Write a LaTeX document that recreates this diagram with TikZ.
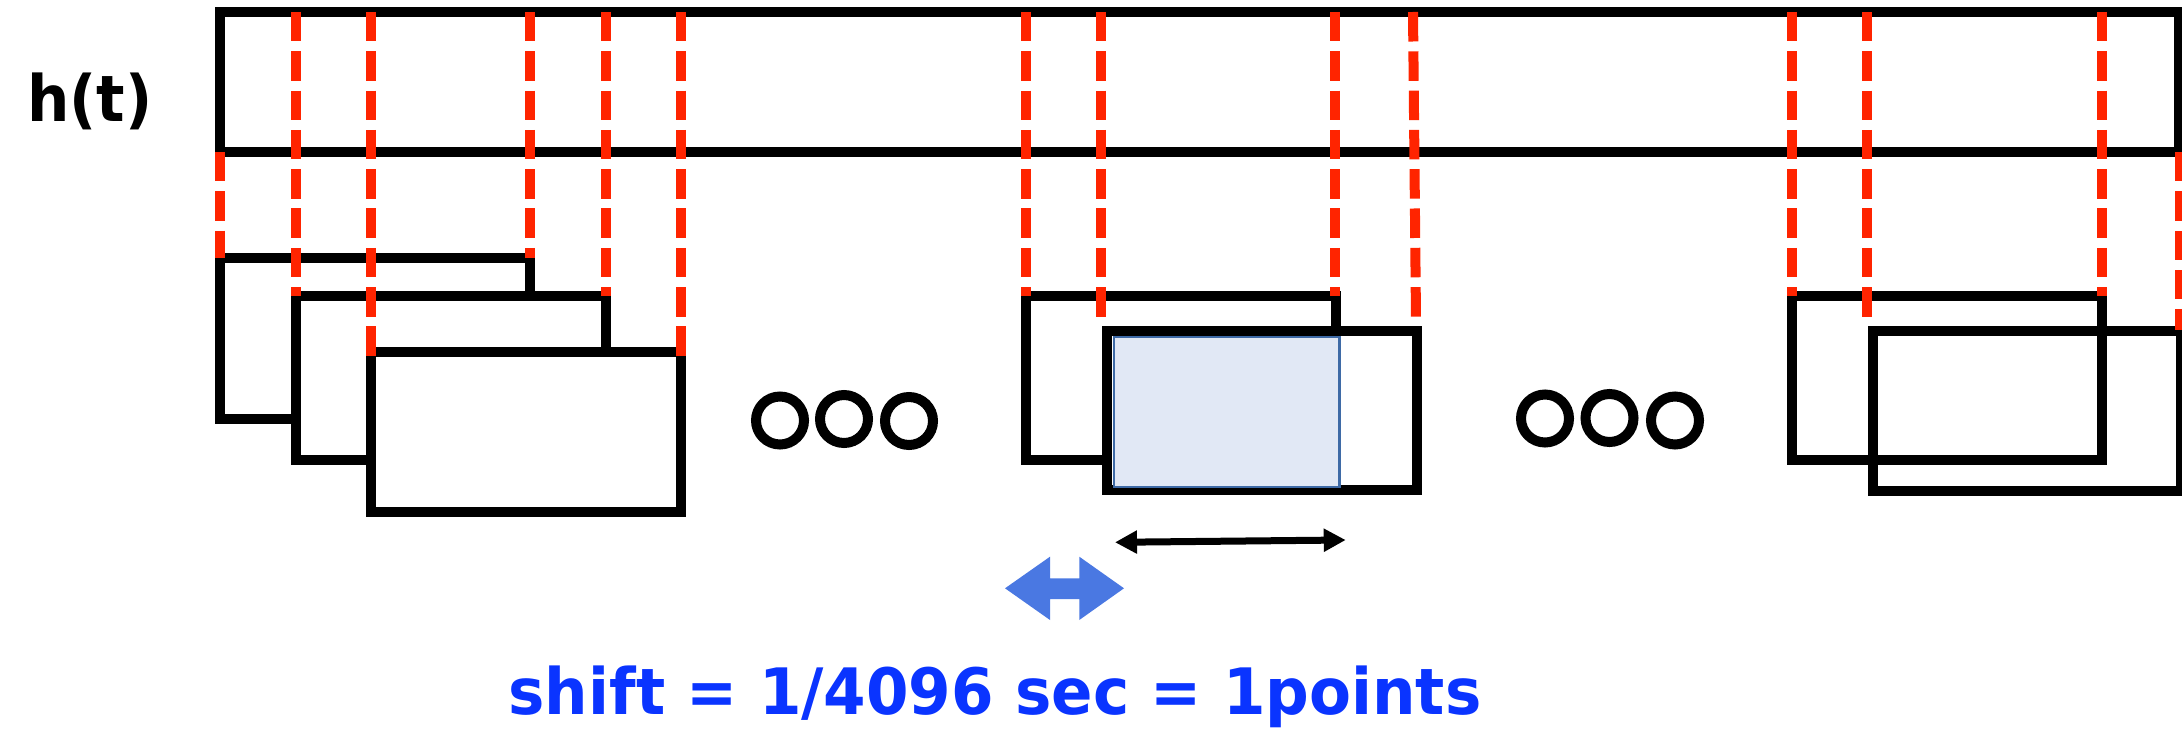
\documentclass[tikz,border=0pt]{standalone}
\usepackage{fontspec}
\setmainfont{DejaVu Sans}
\usetikzlibrary{arrows.meta}
\definecolor{redd}{RGB}{255,36,0}
\definecolor{txtblue}{RGB}{10,52,255}
\definecolor{arrblue}{RGB}{74,120,226}
\definecolor{boxfill}{RGB}{225,232,245}
\definecolor{boxline}{RGB}{62,106,166}
\begin{document}
\begin{tikzpicture}[x=1pt,y=-1pt,
  blk/.style={line width=10pt, draw=black},
  reddash/.style={draw=redd, line width=10pt, dash pattern=on 29.5pt off 9.8pt},
  dotc/.style={draw=black, line width=10pt}]
\useasboundingbox (0,0) rectangle (2182,730);

% label
\node[anchor=base west, inner sep=0, font=\fontsize{64}{64}\selectfont\bfseries] (ht) at (27,122) {\scalebox{0.93}[1]{h(t)}};

% top band
\draw[blk] (220,12) rectangle (2179,152);

% group 1
\draw[blk, fill=white] (220,258) rectangle (530,419);
\draw[blk, fill=white] (296,296) rectangle (606,460);
\draw[blk, fill=white] (371,352) rectangle (681,512);

% group 2
\draw[blk, fill=white] (1025.7,296) rectangle (1335.5,460);
\draw[blk, fill=white] (1107,331) rectangle (1417,490);
\draw[draw=boxline, line width=2.7pt, fill=boxfill] (1114,337) rectangle (1339.5,487);

% group 3
\draw[blk] (1792,296) rectangle (2102,460);
\draw[blk] (1873,331) rectangle (2181,491);

% red dashed lines
\draw[reddash] (220,152) -- (220,258);
\draw[reddash] (296,12) -- (296,296);
\draw[reddash] (371,12) -- (371,360);
\draw[reddash] (529.5,12) -- (529.5,258);
\draw[reddash] (605.5,12) -- (605.5,296);
\draw[reddash] (681,12) -- (681,360);

\draw[reddash] (1025.7,12) -- (1025.7,296);
\draw[reddash] (1101,12) -- (1101,320);
\draw[reddash] (1335.3,12) -- (1335.3,296);
\draw[reddash] (1413,12) -- (1416,320);

\draw[reddash] (1792,12) -- (1792,296);
\draw[reddash] (1867.3,12) -- (1867.3,320);
\draw[reddash] (2102,12) -- (2102,296);
\draw[reddash] (2180,152) -- (2180,330);

% circles
\draw[dotc] (780,420.5) circle (24);
\draw[dotc] (844,419) circle (24);
\draw[dotc] (909,421) circle (24);
\draw[dotc] (1545,418.5) circle (24);
\draw[dotc] (1609.5,418) circle (24);
\draw[dotc] (1675,420.5) circle (24);

% black double arrow
\coordinate (ba) at (1115,542.3);
\coordinate (bb) at (1345.7,540);
\draw[line width=7pt, {Triangle[length=22pt,width=22pt]}-{Triangle[length=22pt,width=22pt]}] (ba) -- (bb);

% blue fat double arrow
\fill[arrblue] (1005,588.3) -- (1050,556.7) -- (1050,578.3) -- (1079.3,578.3) -- (1079.3,556.7) -- (1124,588.3) -- (1079.3,620) -- (1079.3,599) -- (1050,599) -- (1050,620) -- cycle;

% caption
\node[anchor=base, inner sep=0, text=txtblue, font=\fontsize{64}{64}\selectfont\bfseries] (lbl) at (995,714.5) {\scalebox{0.955}[1]{shift = 1/4096 sec = 1points}};
\end{tikzpicture}
\end{document}
